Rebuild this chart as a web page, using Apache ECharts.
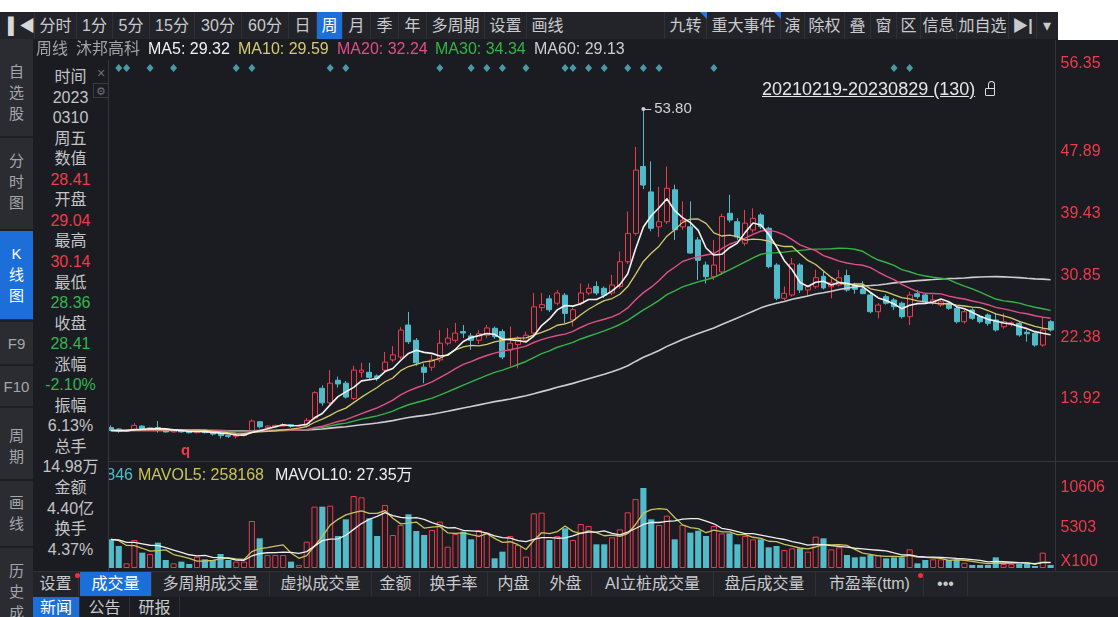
<!DOCTYPE html>
<html lang="zh">
<head>
<meta charset="utf-8">
<title>沐邦高科 周线</title>
<script src="https://cdn.jsdelivr.net/npm/echarts@6/dist/echarts.min.js"></script>
<style>
html,body{margin:0;padding:0}
body{position:relative;width:1118px;height:617px;overflow:hidden;background:#1b1c21;font-family:"Liberation Sans","Noto Sans CJK SC",sans-serif}
#chart{position:absolute;left:0;top:0;width:1118px;height:617px}
.a{position:absolute;white-space:nowrap;box-sizing:border-box}
</style>
</head>
<body>
<div id="chart"></div>
<div id="ui"></div>
<script>
// ---------------- data (weekly, 沐邦高科) ----------------
const open  = [10.0,9.8,9.5,9.6,10.2,9.8,10.0,9.6,9.4,9.6,9.4,9.3,9.6,9.3,9.2,8.9,8.8,8.9,9.3,10.8,
  10.0,10.1,10.2,10.4,10.2,10.2,11.3,15.4,13.4,16.5,16.1,14.0,17.6,17.6,17.1,17.9,19.3,19.7,24.1,22.0,
  18.3,18.3,19.3,21.6,22.0,23.2,22.6,22.0,22.7,23.65,23.2,20.7,21.4,22.0,23.0,26.5,27.7,27.1,28.2,24.8,
  27.1,28.5,29.4,29.15,28.5,29.4,32.8,36.7,45.9,42.4,37.6,38.3,42.7,37.6,37.6,35.8,32.35,30.75,31.4,39.46,
  38.3,35.34,37.17,39.23,37.4,32.35,27.77,28.23,32.35,28.92,29.37,30.8,29.37,29.6,30.9,29.6,29.04,28.23,25.93,28.0,
  27.54,27.1,25.25,28.4,28.23,27.1,26.85,27.1,26.4,24.56,26.17,25.25,25.48,24.79,23.87,24.2,24.33,23.1,22.96,21.35,24.56];
const close = [9.6,9.5,9.6,10.3,9.8,10.0,9.6,9.4,9.6,9.4,9.3,9.6,9.3,9.1,8.9,8.8,8.9,9.1,10.9,10.1,
  10.2,10.3,10.4,10.2,10.3,11.0,14.8,13.4,16.1,16.0,14.2,17.9,17.9,16.9,16.8,19.0,20.0,23.4,21.8,18.9,
  17.6,19.3,21.6,22.3,23.0,23.0,22.0,22.9,23.7,22.5,19.7,21.6,22.3,22.7,26.6,26.9,26.2,28.5,25.7,26.2,
  28.5,29.15,28.5,28.2,29.6,32.8,36.7,45.4,43.35,37.4,38.3,42.9,37.2,38.5,34.0,33.0,30.75,32.35,39.0,38.54,
  36.2,38.1,38.77,37.62,32.12,27.77,28.46,32.5,28.92,29.37,30.6,29.2,29.9,30.6,28.9,29.02,28.41,25.93,26.85,27.1,
  26.62,25.25,28.23,28.0,27.3,27.54,27.3,26.4,24.56,25.93,25.02,24.56,24.33,23.42,24.56,24.4,22.73,22.9,21.35,23.42,23.42];
const low   = [9.5,9.3,9.4,9.5,9.7,9.6,9.3,9.3,9.3,9.3,9.2,9.2,9.2,8.9,8.5,8.6,8.5,8.8,9.2,9.9,
  9.9,10.0,10.1,10.0,10.1,10.0,11.1,13.0,13.2,15.5,14.0,13.8,16.9,16.7,16.4,17.6,19.0,19.4,21.5,18.5,
  16.1,17.8,19.0,21.3,21.7,22.3,20.7,21.5,22.3,22.2,19.4,18.4,18.15,21.7,22.7,26.0,25.9,26.8,24.3,23.9,
  26.8,28.2,28.2,27.8,28.2,29.1,32.5,36.4,42.8,37.0,36.2,38.0,35.8,37.2,33.9,30.3,29.8,30.3,31.0,38.2,
  35.8,35.0,36.8,37.3,31.9,27.5,27.5,28.0,28.5,28.0,29.1,29.0,27.77,29.4,28.7,28.4,28.36,25.7,25.02,26.9,
  26.17,25.0,24.1,27.7,27.0,26.9,26.6,26.2,24.3,24.3,24.8,24.3,24.0,23.2,23.6,23.9,22.5,21.81,21.1,21.1,23.2];
const high  = [10.3,9.9,9.8,10.6,10.3,10.1,10.9,9.7,9.7,9.7,9.5,9.8,9.7,9.4,9.3,9.0,9.1,9.2,11.1,10.9,
  10.3,10.4,10.6,10.5,10.4,11.3,15.0,15.8,17.9,17.0,16.4,18.5,18.9,18.9,17.3,20.4,21.2,23.8,25.9,22.3,
  18.8,20.0,23.4,23.7,24.4,24.1,23.0,23.4,24.1,23.9,23.5,23.9,22.6,23.2,28.5,28.5,28.2,28.9,28.5,26.5,
  29.8,29.8,30.1,29.4,31.0,34.2,39.7,48.6,53.8,46.6,43.1,45.9,43.4,41.1,41.1,36.2,32.8,35.8,39.4,42.0,
  38.8,39.92,40.15,39.5,37.6,32.6,29.4,33.3,32.6,29.6,31.7,31.5,30.5,31.67,31.7,29.9,30.14,28.5,27.1,28.3,
  27.8,27.3,28.7,28.9,28.4,28.23,27.5,27.3,26.6,26.2,26.4,25.5,25.7,25.71,25.71,24.6,24.5,23.42,23.1,25.25,24.8];
// volume, in units of 100 lots (axis shows X100)
const volume = [3801,2917,619,3713,2033,1856,3359,1061,619,840,530,1503,1150,1061,1856,1061,840,840,6232,3934,
  1724,1724,1724,840,398,3492,8132,8132,8265,4243,6453,9547,9370,6586,4243,8354,4376,5702,7116,4906,
  4376,5039,6144,2829,4508,4818,3801,5039,4685,1282,2166,4243,3050,1503,7249,7338,3713,4243,5260,3713,
  5834,5569,3138,3138,4066,5127,7382,9149,10606,6453,5702,6939,3801,5702,4685,4950,4243,5569,4597,4597,
  3138,4243,3801,3801,2741,2917,2387,2608,2608,2166,4155,3934,2475,2741,1724,1414,1498,1724,1724,1282,
  1414,1414,2475,619,1061,1150,1150,1061,1061,707,398,398,398,1414,530,530,530,530,265,2033,398];
// weeks with a news/event diamond marker
const eventWeeks = [1,2,5,8,16,18,28,30,42,46,48,50,53,58,59,61,63,66,68,70,77,100,102];
const priceTicks = [13.92, 22.38, 30.85, 39.43, 47.89, 56.35];
const hoverWeek = 96;   // 2023-03-10
const hoverDate = '2023-03-10';

const dates = open.map((_, i) => new Date(Date.parse(hoverDate + 'T00:00:00Z') + (i - hoverWeek) * 7 * 86400000).toISOString().slice(0, 10));

// ---------------- helpers ----------------
function ma(arr, n) {
  return arr.map((_, i) => {
    let s = 0;
    for (let k = i - n + 1; k <= i; k++) s += arr[Math.max(k, 0)];
    return +(s / n).toFixed(3);
  });
}
const BG = '#1b1c21', RED = '#ee3a4c', CYAN = '#52bbc9', GREEN = '#33b552';
const C_MA5 = '#f2f2f2', C_MA10 = '#d3cb6e', C_MA20 = '#e04f86', C_MA30 = '#33b447', C_MA60 = '#cdcdd0';

const PMIN = 5.54, PMAX = 60.54;
const ohlc = open.map((o, i) => [o, close[i], low[i], high[i]]);
const volMax = Math.max(...volume);
const volData = volume.map((v, i) => ({
  value: v,
  itemStyle: close[i] >= open[i] ? { color: BG, borderColor: RED, borderWidth: 1 } : { color: CYAN, borderWidth: 0 }
}));
let peakIdx = 0; high.forEach((h, i) => { if (h > high[peakIdx]) peakIdx = i; });

const pricePos = priceTicks.map((v, i) => i === priceTicks.length - 1 ? PMAX - 0.55 : v);
const volPos = [volMax * 0.08, volMax / 2, volMax];

const gridL = 107, gridW = 947.5;
const noAxis = { axisLine: { show: false }, axisTick: { show: false }, axisLabel: { show: false }, splitLine: { show: false } };

const lineS = (name, data, color, w, xi, yi) => ({
  name, type: 'line', data, xAxisIndex: xi, yAxisIndex: yi, symbol: 'none', showSymbol: false,
  silent: true, lineStyle: { color, width: w }, z: 4
});

const option = {
  backgroundColor: 'transparent',
  animation: false,
  grid: [
    { left: gridL, width: gridW, top: 60, height: 400 },
    { left: gridL, width: gridW, top: 488, height: 80 }
  ],
  xAxis: [
    Object.assign({ type: 'category', data: dates, gridIndex: 0, boundaryGap: true }, noAxis),
    Object.assign({ type: 'category', data: dates, gridIndex: 1, boundaryGap: true }, noAxis)
  ],
  yAxis: [
    {
      type: 'value', gridIndex: 0, position: 'right', min: PMIN, max: PMAX,
      splitLine: { show: false }, axisTick: { show: false }, axisLine: { show: false },
      axisLabel: {
        color: RED, fontSize: 16, fontFamily: 'Liberation Sans', margin: 6,
        customValues: pricePos,
        formatter: v => { const k = pricePos.findIndex(p => Math.abs(p - v) < 1e-6); return k >= 0 ? priceTicks[k].toFixed(2) : ''; }
      }
    },
    {
      type: 'value', gridIndex: 1, position: 'right', min: 0, max: volMax,
      splitLine: { show: false }, axisTick: { show: false }, axisLine: { show: false },
      axisLabel: {
        color: RED, fontSize: 16, fontFamily: 'Liberation Sans', margin: 6,
        customValues: volPos,
        formatter: v => v < volMax * 0.2 ? 'X100' : String(Math.round(v))
      }
    }
  ],
  series: [
    {
      name: 'K', type: 'candlestick', data: ohlc, xAxisIndex: 0, yAxisIndex: 0, barWidth: '70%', z: 2,
      itemStyle: { color: BG, color0: CYAN, borderColor: RED, borderColor0: CYAN, borderWidth: 1 },
      markLine: {
        silent: true, animation: false, symbol: ['circle', 'none'], symbolSize: 4,
        lineStyle: { color: '#cfcfcf', width: 1, type: 'solid' },
        label: { show: true, position: 'end', formatter: high[peakIdx].toFixed(2), color: '#d2d2d2', fontSize: 15, fontFamily: 'Liberation Sans', distance: 3 },
        data: [[{ coord: [peakIdx, high[peakIdx]] }, { coord: [peakIdx + 1, high[peakIdx]] }]]
      }
    },
    lineS('MA60', ma(close, 60), C_MA60, 1.6, 0, 0),
    lineS('MA30', ma(close, 30), C_MA30, 1.4, 0, 0),
    lineS('MA20', ma(close, 20), C_MA20, 1.4, 0, 0),
    lineS('MA10', ma(close, 10), C_MA10, 1.3, 0, 0),
    lineS('MA5', ma(close, 5), C_MA5, 1.6, 0, 0),
    {
      name: 'events', type: 'scatter', xAxisIndex: 0, yAxisIndex: 0, silent: true,
      data: eventWeeks.map(i => [i, PMAX - 1.1]), symbol: 'diamond', symbolSize: [7, 8],
      itemStyle: { color: CYAN }, z: 5
    },
    { name: 'VOL', type: 'bar', data: volData, xAxisIndex: 1, yAxisIndex: 1, barWidth: '78%', z: 2 },
    lineS('MAVOL5', ma(volume, 5), '#c9c45a', 1.3, 1, 1),
    lineS('MAVOL10', ma(volume, 10), '#eeeeee', 1.3, 1, 1)
  ]
};
const chart = echarts.init(document.getElementById('chart'));
chart.setOption(option);

// ---------------- surrounding terminal UI ----------------
const ui = document.getElementById('ui');
function put(l, t, w, h, css, html) {
  const d = document.createElement('div');
  d.className = 'a';
  d.style.cssText = `left:${l}px;top:${t}px;` + (w != null ? `width:${w}px;` : '') + (h != null ? `height:${h}px;` : '') + (css || '');
  if (html != null) d.innerHTML = html;
  ui.appendChild(d);
  return d;
}
// white page margins
put(0, 0, 1118, 12, 'background:#fff');
put(1058, 0, 60, 40, 'background:#fff');

// top toolbar
put(0, 12, 1058, 27, 'background:#232429');
const tbCells = [
  [34, 42, '分时'], [76, 36, '1分'], [112, 37, '5分'], [149, 45, '15分'], [194, 47, '30分'], [241, 47, '60分'],
  [288, 28, '日'], [316, 26, '周', 1], [342, 28, '月'], [370, 28, '季'], [398, 28, '年'], [426, 58, '多周期'],
  [484, 42, '设置'], [526, 42, '画线'],
  [664, 42, '九转'], [706, 74, '重大事件'], [780, 24, '演'], [804, 40, '除权'], [844, 26, '叠'], [870, 26, '窗'],
  [896, 24, '区'], [920, 36, '信息'], [956, 52, '加自选'], [1008, 28, '<b>▶|</b>'], [1036, 20, '▾']
];
tbCells.forEach(([l, w, t, on]) => put(l, 12, w, 27,
  `line-height:27px;text-align:center;font-size:16px;color:${on ? '#fff' : '#c9cacd'};${on ? 'background:#1c6fd8;' : ''}border-left:1px solid #303137`, t));
put(8, 12, 24, 27, 'line-height:27px;font-size:16px;color:#d8d8d8;font-weight:bold', '▌◀');
// small blue corner flags
put(700, 12, 0, 0, 'border-top:7px solid #2a78e4;border-left:7px solid transparent');
put(774, 12, 0, 0, 'border-top:7px solid #2a78e4;border-left:7px solid transparent');

// left sidebar
put(0, 39, 33, 578, 'background:#2b2c31');
put(0, 231, 33, 88, 'background:#1c6fd8');
[136, 229, 320, 364, 406, 479, 546].forEach(y => put(0, y, 33, 2, 'background:#1e1f24'));
const sideCss = 'width:33px;text-align:center;font-size:15px;line-height:21px;color:#a4a6ab';
put(0, 61, null, null, sideCss, '自<br>选<br>股');
put(0, 150, null, null, sideCss, '分<br>时<br>图');
put(0, 243, null, null, sideCss + ';color:#fff', 'K<br>线<br>图');
put(0, 333, null, null, sideCss, 'F9');
put(0, 376, null, null, sideCss, 'F10');
put(0, 425, null, null, sideCss, '周<br>期');
put(0, 492, null, null, sideCss, '画<br>线');
put(0, 560, null, null, sideCss, '历<br>史<br>成');

// header row
const hdr = [[36, '周线', '#a2a3a7'], [76, '沐邦高科', '#a2a3a7'], [148, 'MA5: 29.32', C_MA5], [238, 'MA10: 29.59', C_MA10],
  [337, 'MA20: 32.24', C_MA20], [435, 'MA30: 34.34', C_MA30], [534, 'MA60: 29.13', C_MA60]];
hdr.forEach(([l, t, c]) => put(l, 39, null, 20, `font-size:16px;line-height:20px;color:${c}`, t));

// date range selection label
put(762, 78, null, 22, 'font-size:18px;line-height:22px;color:#e6e6e6;text-decoration:underline', '20210219-20230829 (130)');
put(985, 88, 10, 8, 'border:1.5px solid #dcdcdc;border-radius:1px');
put(988, 81, 7, 8, 'border:1.5px solid #dcdcdc;border-bottom:none;border-radius:4px 4px 0 0');

// volume legend (left part hidden behind the data panel)
put(0, 465, 133, 20, `font-size:16px;line-height:20px;color:${CYAN};text-align:right`, 'VOL: 149846');
put(138, 465, null, 20, 'font-size:16px;line-height:20px;color:#c9c45a', 'MAVOL5: 258168');
put(275, 465, null, 20, 'font-size:16px;line-height:20px;color:#eeeeee', 'MAVOL10: 27.35万');

// ex-rights marker
put(181, 442, null, 16, `font-size:15px;line-height:16px;font-weight:bold;color:${RED}`, 'q');

// frame lines
put(108, 461, 1010, 1, 'background:#35363c');
put(1055, 40, 1, 531, 'background:#35363c');

// data window panel
put(33, 60, 76, 511, `background:${BG};border-right:1px solid #35363c`);
const W = '#c3c4c7', R = RED, G = GREEN;
const panel = [['时间', W], ['2023', W], ['0310', W], ['周五', W], ['数值', W], ['28.41', R], ['开盘', W], ['29.04', R],
  ['最高', W], ['30.14', R], ['最低', W], ['28.36', G], ['收盘', W], ['28.41', G], ['涨幅', W], ['-2.10%', G],
  ['振幅', W], ['6.13%', W], ['总手', W], ['14.98万', W], ['金额', W], ['4.40亿', W], ['换手', W], ['4.37%', W]];
panel.forEach(([t, c], k) => put(33, 67 + k * 20.55, 75, 20, `text-align:center;font-size:16px;line-height:20px;color:${c}`, t));
put(94, 66, 14, 14, 'font-size:14px;line-height:14px;color:#6f7075;text-align:center', '×');
put(93, 83, 16, 15, 'font-size:11px;line-height:14px;color:#6f7075;text-align:center;border:1px solid #3a3b40', '⚙');

// bottom indicator tabs
put(33, 571, 1085, 26, 'background:#222328;border-top:1px solid #303137');
const tabs = [[33, 46, '设置'], [80, 72, '成交量', 1], [152, 118, '多周期成交量'], [270, 102, '虚拟成交量'], [372, 48, '金额'],
  [420, 68, '换手率'], [488, 52, '内盘'], [540, 52, '外盘'], [592, 122, 'AI立桩成交量'], [714, 102, '盘后成交量'],
  [816, 108, '市盈率(ttm)'], [924, 44, '•••']];
tabs.forEach(([l, w, t, on]) => put(l, 572, w, 24,
  `line-height:24px;text-align:center;font-size:16px;color:${on ? '#fff' : '#c9cacd'};${on ? 'background:#1c6fd8;' : ''}border-right:1px solid #303137`, t));
put(75, 573, 5, 5, 'background:#f0303f;border-radius:50%');
put(918, 573, 5, 5, 'background:#f0303f;border-radius:50%');

// bottom news row
put(33, 597, 1085, 20, `background:${BG}`);
[[33, 47, '新闻', 1], [80, 50, '公告'], [130, 50, '研报']].forEach(([l, w, t, on]) => put(l, 597, w, 20,
  `line-height:22px;text-align:center;font-size:16px;color:${on ? '#fff' : '#c9cacd'};${on ? 'background:#1c6fd8;' : ''}border-right:1px solid #303137`, t));
</script>
</body>
</html>
